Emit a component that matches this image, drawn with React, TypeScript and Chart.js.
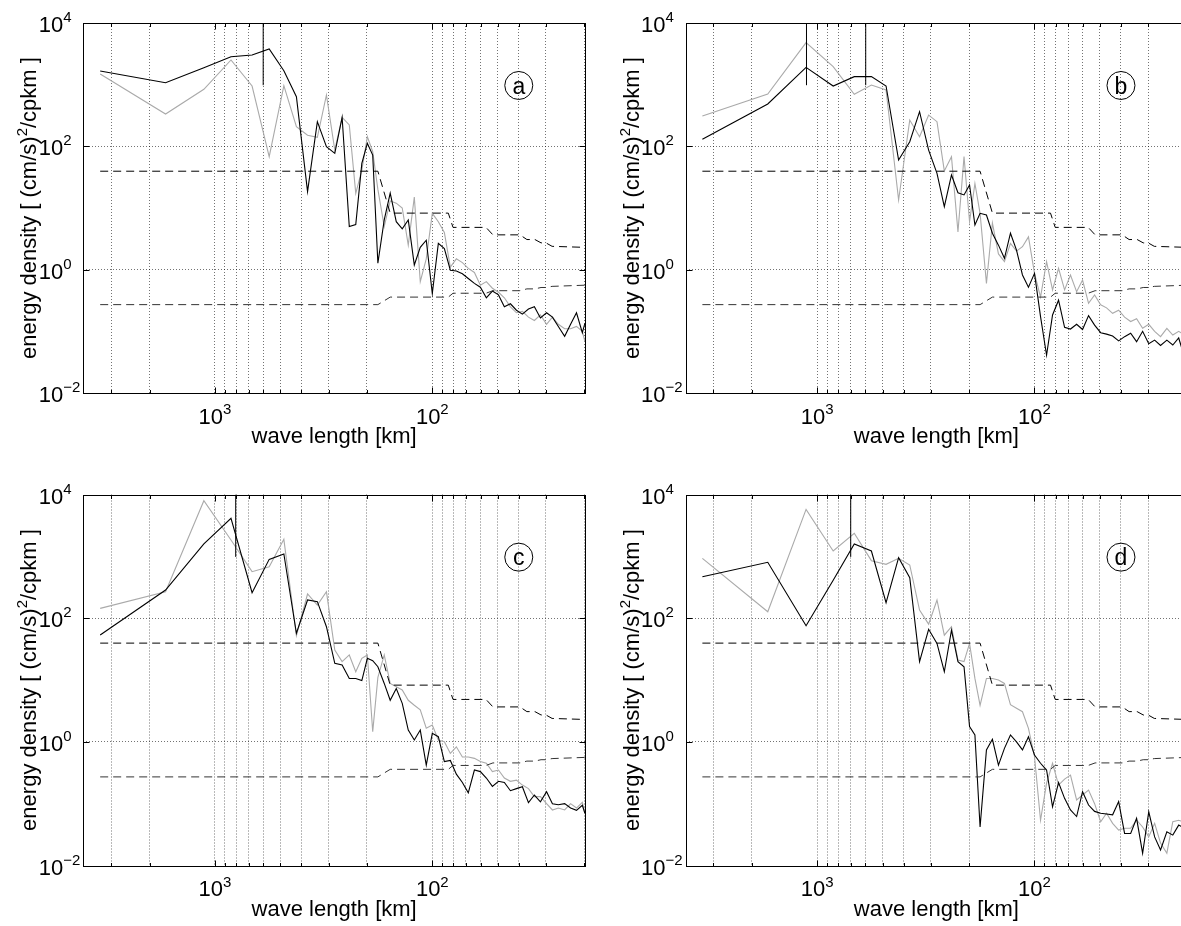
import React, { useEffect, useRef } from 'react';
import { Chart, registerables } from 'chart.js';

Chart.register(...registerables);

const FONT = '"Liberation Sans", Arial, Helvetica, sans-serif';

// wave length grid (km) shared by all spectra
const wavelengths = [3375, 1688, 1125, 844, 675, 563, 482, 422, 375, 338, 307, 281, 260, 241, 225, 211, 199, 188, 178,
  166.4, 156.2, 146.5, 137.5, 129.0, 121.0, 113.6, 106.6, 100, 93.8, 88.0, 82.6, 77.5, 72.7, 68.3, 64.0, 60.1, 56.4,
  52.9, 49.6, 46.6, 43.7, 41.0, 38.5, 36.1, 33.9, 31.8, 29.8, 28.0, 26.3, 24.6, 23.1, 21.7, 20.4, 19.85];

const panelABlack = [1667, 1076, 1887, 2843, 3027, 3785, 1687, 638, 18.4, 251, 98.6, 77, 296, 5.0, 5.4, 53, 112, 72, 1.27, 6.4,
  17.5, 6.0, 4.6, 6.4, 1.19, 2.3, 3.0, 0.41, 2.67, 2.2, 0.98, 0.95, 0.86, 0.72, 0.6, 0.52, 0.35, 0.45, 0.39, 0.25,
  0.28, 0.22, 0.19, 0.23, 0.25, 0.165, 0.2, 0.17, 0.12, 0.083, 0.13, 0.2, 0.095, 0.135];
const panelAGray = [1490, 334, 840, 2512, 951, 68, 963, 208, 151, 140, 680, 87, 296, 222, 17.3, 41, 143, 82, 20, 5,
  13, 12, 10, 2.5, 15, 0.64, 1.5, 8.2, 6, 4, 1.1, 1.5, 1.3, 1.05, 0.9, 0.56, 0.64, 0.5, 0.43, 0.35,
  0.25, 0.2, 0.21, 0.17, 0.15, 0.185, 0.13, 0.17, 0.13, 0.11, 0.11, 0.12, 0.1, 0.068];

const panelBBlack = [130, 486, 1910, 951, 1349, 1349, 951, 60, 119, 365, 87, 36.5, 10.5, 34.3, 17.7, 16.3, 23.6, 5.3, 8.2, 7.7,
  3.9, 2.5, 1.53, 3.9, 2.08, 0.82, 0.52, 0.87, 0.173, 0.041, 0.184, 0.32, 0.116, 0.109, 0.13, 0.107, 0.18, 0.126, 0.095, 0.09,
  0.084, 0.07, 0.082, 0.093, 0.068, 0.1, 0.063, 0.072, 0.059, 0.072, 0.06, 0.078, 0.038, 0.04];
const panelBGray = [310, 706, 4797, 1958, 698, 988, 820, 13.5, 267, 143, 322, 251, 40, 68, 4.1, 68, 6, 25, 8.2, 0.6,
  5.7, 1.8, 1.35, 2.67, 2.0, 2.36, 3.4, 0.87, 0.36, 1.35, 0.47, 1.05, 0.47, 0.82, 0.44, 0.68, 0.285, 0.39, 0.27, 0.24,
  0.196, 0.22, 0.17, 0.144, 0.16, 0.112, 0.13, 0.1, 0.082, 0.112, 0.087, 0.1, 0.087, 0.085];

const panelCBlack = [53.4, 285, 1585, 4120, 258, 893, 1091, 57, 197, 185, 72.8, 18.6, 17.5, 10.6, 10.6, 9.8, 22.4, 20.5, 16.4, 8.8,
  4.7, 7.3, 4.2, 1.55, 1.07, 1.55, 0.42, 1.37, 1.21, 0.48, 0.5, 0.3, 0.22, 0.15, 0.35, 0.33, 0.26, 0.19, 0.23, 0.22,
  0.162, 0.175, 0.188, 0.104, 0.138, 0.107, 0.156, 0.1, 0.096, 0.1, 0.085, 0.078, 0.094, 0.07];
const panelCGray = [144, 268, 7943, 1837, 565, 680, 1884, 52, 246, 163, 268, 30.5, 19.8, 25.4, 13.6, 22.4, 25.4, 1.46, 11, 25.4,
  8.8, 7.8, 6.9, 4.7, 3.9, 3.3, 1.66, 1.87, 1.07, 1.0, 0.65, 0.83, 0.57, 0.57, 0.54, 0.48, 0.45, 0.33, 0.35, 0.26,
  0.23, 0.24, 0.2, 0.175, 0.13, 0.13, 0.1, 0.079, 0.085, 0.079, 0.1, 0.085, 0.105, 0.07];

const panelDBlack = [469, 800, 75.5, 409, 1585, 1219, 178, 951, 450, 19.8, 66, 39, 13.6, 64, 19.8, 16.4, 1.76, 1.29, 0.042, 0.74,
  1.1, 0.42, 0.785, 1.29, 1.0, 0.74, 1.21, 0.61, 0.45, 0.35, 0.089, 0.22, 0.122, 0.079, 0.062, 0.156, 0.095, 0.075, 0.07, 0.068,
  0.066, 0.108, 0.033, 0.033, 0.058, 0.0158, 0.074, 0.029, 0.0178, 0.035, 0.031, 0.045, 0.04, 0.04];
const panelDGray = [929, 127, 5754, 1219, 2355, 851, 743, 929, 724, 135, 80, 197, 53, 73, 21, 19.8, 39, 10.6, 3.9, 10.6,
  10.6, 10, 8.8, 4, 3.5, 3.07, 1.65, 0.58, 0.054, 0.214, 0.45, 0.2, 0.25, 0.29, 0.115, 0.138, 0.166, 0.1, 0.051, 0.07,
  0.048, 0.0375, 0.04, 0.04, 0.054, 0.042, 0.029, 0.048, 0.023, 0.0158, 0.051, 0.054, 0.05, 0.05];

// 95% confidence factors (dashed lines)
const ciWavelengths = [3375, 178, 156.2, 84.4, 80.3, 56.6, 52.6, 39.5, 36.7, 33.7, 31.6, 30.0, 28.1, 19.85];
const ciUpper = [39.5, 39.5, 8.26, 8.26, 4.85, 4.85, 3.67, 3.67, 3.08, 3.08, 2.72, 2.72, 2.39, 2.3];
const ciLower = [0.271, 0.271, 0.359, 0.359, 0.415, 0.415, 0.456, 0.456, 0.488, 0.488, 0.514, 0.514, 0.536, 0.56];

// error bars (wave length km)
const errorBarsA = [600];
const errorBarsB = [1120, 598];
const errorBarsC = [803];
const errorBarsD = [701];
const errorBarLow = 980;
const errorBarHigh = 10000;

// axes
const X_MIN = 19.83;
const X_MAX = 4036;
const Y_MIN = 0.01;
const Y_MAX = 10000;
const xGridTicks = [20, 30, 40, 50, 60, 70, 80, 90, 100, 200, 300, 400, 500, 600, 700, 800, 900, 1000, 2000, 3000];
const xLabelTicks = [1000, 100];
const xLabelExps = ['3', '2'];
const yGridTicks = [1, 100];
const yLabelTicks = [0.01, 1, 100, 10000];
const yLabelExps = ['\u22122', '0', '2', '4'];
const panelLetterPos = { x: 40, y: 970 };

const xTitle = 'wave length [km]';
const yTitleParts = ['energy density [ (cm/s)', '2', '/cpkm ]'];

type Spec = {
  letter: string;
  black: number[];
  gray: number[];
  errs: number[];
  left: number;
  top: number;
  pad: { left: number; top: number; right: number; bottom: number };
};

const panels: Spec[] = [
  { letter: 'a', black: panelABlack, gray: panelAGray, errs: errorBarsA, left: 0, top: 0, pad: { left: 83.3, top: 23, right: 15, bottom: 70 } },
  { letter: 'b', black: panelBBlack, gray: panelBGray, errs: errorBarsB, left: 602, top: 0, pad: { left: 83.5, top: 23, right: 14.8, bottom: 70 } },
  { letter: 'c', black: panelCBlack, gray: panelCGray, errs: errorBarsC, left: 0, top: 471, pad: { left: 83.3, top: 23.5, right: 15, bottom: 68.5 } },
  { letter: 'd', black: panelDBlack, gray: panelDGray, errs: errorBarsD, left: 602, top: 471, pad: { left: 83.5, top: 23.5, right: 14.8, bottom: 68.5 } },
];

const zip = (xs: number[], ys: number[]) => xs.map((x, i) => ({ x, y: ys[i] }));

function overlayPlugin(letter: string) {
  return {
    id: 'overlay_' + letter,
    afterDraw(chart: any) {
      const { ctx, chartArea: ca } = chart;
      const xs = chart.scales.x;
      const ys = chart.scales.y;
      const L = Math.round(ca.left) + 0.5;
      const R = Math.round(ca.right) + 0.5;
      const T = Math.round(ca.top) + 0.5;
      const B = Math.round(ca.bottom) + 0.5;
      ctx.save();
      ctx.setLineDash([]);
      ctx.strokeStyle = '#000';
      ctx.lineWidth = 1;
      ctx.beginPath();
      for (const v of xGridTicks) {
        const px = Math.round(xs.getPixelForValue(v)) + 0.5;
        const len = v === 100 || v === 1000 ? 6 : 3.5;
        ctx.moveTo(px, B);
        ctx.lineTo(px, B - len);
        ctx.moveTo(px, T);
        ctx.lineTo(px, T + len);
      }
      for (const v of yLabelTicks) {
        const py = Math.round(ys.getPixelForValue(v)) + 0.5;
        ctx.moveTo(L, py);
        ctx.lineTo(L + 6, py);
        ctx.moveTo(R, py);
        ctx.lineTo(R - 6, py);
      }
      ctx.stroke();
      ctx.strokeRect(L, T, R - L, B - T);

      const base = `22px ${FONT}`;
      const sup = `15px ${FONT}`;
      ctx.fillStyle = '#000';
      ctx.textBaseline = 'alphabetic';

      // y tick labels
      yLabelTicks.forEach((v, i) => {
        const py = ys.getPixelForValue(v);
        ctx.font = base;
        ctx.textAlign = 'right';
        ctx.fillText('10', ca.left - 20, py + 9);
        ctx.font = sup;
        ctx.textAlign = 'left';
        ctx.fillText(yLabelExps[i], ca.left - 20, py - 1);
      });

      // x tick labels
      xLabelTicks.forEach((v, i) => {
        const px = xs.getPixelForValue(v);
        ctx.font = base;
        const w1 = ctx.measureText('10').width;
        ctx.font = sup;
        const w2 = ctx.measureText(xLabelExps[i]).width;
        const start = px - (w1 + w2) / 2;
        ctx.textAlign = 'left';
        ctx.font = base;
        ctx.fillText('10', start, ca.bottom + 30.5);
        ctx.font = sup;
        ctx.fillText(xLabelExps[i], start + w1, ca.bottom + 21);
      });

      // x title
      ctx.font = base;
      ctx.textAlign = 'center';
      ctx.fillText(xTitle, (ca.left + ca.right) / 2, ca.bottom + 50);

      // y title (rotated)
      ctx.save();
      ctx.translate(ca.left - 47, (ca.top + ca.bottom) / 2);
      ctx.rotate(-Math.PI / 2);
      ctx.textAlign = 'left';
      ctx.font = base;
      const wA = ctx.measureText(yTitleParts[0]).width;
      const wC = ctx.measureText(yTitleParts[2]).width;
      ctx.font = sup;
      const wB = ctx.measureText(yTitleParts[1]).width;
      let sx = -(wA + wB + wC) / 2;
      ctx.font = base;
      ctx.fillText(yTitleParts[0], sx, 0);
      sx += wA;
      ctx.font = sup;
      ctx.fillText(yTitleParts[1], sx, -9);
      sx += wB;
      ctx.font = base;
      ctx.fillText(yTitleParts[2], sx, 0);
      ctx.restore();

      // panel letter
      const cx = xs.getPixelForValue(panelLetterPos.x);
      const cy = ys.getPixelForValue(panelLetterPos.y);
      ctx.beginPath();
      ctx.arc(cx, cy, 14, 0, Math.PI * 2);
      ctx.stroke();
      ctx.font = `23px ${FONT}`;
      ctx.textAlign = 'center';
      ctx.fillText(letter, cx, cy + 8.3);
      ctx.restore();
    },
  };
}

function Panel({ spec }: { spec: Spec }) {
  const ref = useRef<HTMLCanvasElement>(null);
  useEffect(() => {
    if (!ref.current) return;
    const lineBase = { pointRadius: 0, pointHoverRadius: 0, tension: 0, fill: false };
    const datasets: any[] = [
      ...spec.errs.map((e) => ({
        ...lineBase,
        data: [{ x: e, y: errorBarLow }, { x: e, y: errorBarHigh }],
        borderColor: '#000',
        borderWidth: 1,
      })),
      { ...lineBase, data: zip(ciWavelengths, ciUpper), borderColor: '#000', borderWidth: 1, borderDash: [8, 5] },
      { ...lineBase, data: zip(ciWavelengths, ciLower), borderColor: '#333', borderWidth: 1, borderDash: [8, 5] },
      { ...lineBase, data: zip(wavelengths, spec.black), borderColor: '#000', borderWidth: 1.1 },
      { ...lineBase, data: zip(wavelengths, spec.gray), borderColor: '#aaaaaa', borderWidth: 1.1 },
    ];
    const chart = new Chart(ref.current, {
      type: 'line',
      data: { datasets },
      options: {
        animation: false,
        responsive: false,
        maintainAspectRatio: false,
        devicePixelRatio: 1,
        events: [],
        layout: { padding: spec.pad },
        plugins: { legend: { display: false }, tooltip: { enabled: false }, title: { display: false } },
        scales: {
          x: {
            type: 'logarithmic',
            reverse: true,
            bounds: 'data',
            min: X_MIN,
            max: X_MAX,
            ticks: { display: false },
            grid: { color: 'rgba(0,0,0,0.55)', lineWidth: 1, drawTicks: false },
            border: { display: false, dash: [1, 2] },
            afterBuildTicks: (s: any) => {
              s.ticks = xGridTicks.map((v) => ({ value: v }));
            },
            afterFit: (s: any) => {
              s.height = 0;
            },
          },
          y: {
            type: 'logarithmic',
            bounds: 'data',
            min: Y_MIN,
            max: Y_MAX,
            ticks: { display: false },
            grid: { color: 'rgba(0,0,0,0.55)', lineWidth: 1, drawTicks: false },
            border: { display: false, dash: [1, 2] },
            afterBuildTicks: (s: any) => {
              s.ticks = yGridTicks.map((v) => ({ value: v }));
            },
            afterFit: (s: any) => {
              s.width = 0;
            },
          },
        },
      } as any,
      plugins: [overlayPlugin(spec.letter)],
    });
    return () => chart.destroy();
  }, [spec]);
  return (
    <canvas
      ref={ref}
      width={600}
      height={463}
      style={{ position: 'absolute', left: spec.left, top: spec.top, width: 600, height: 463 }}
    />
  );
}

export default function App() {
  return (
    <div style={{ position: 'fixed', left: 0, top: 0, width: 1181, height: 926, overflow: 'hidden', background: '#fff' }}>
      {panels.map((p) => (
        <Panel key={p.letter} spec={p} />
      ))}
    </div>
  );
}
